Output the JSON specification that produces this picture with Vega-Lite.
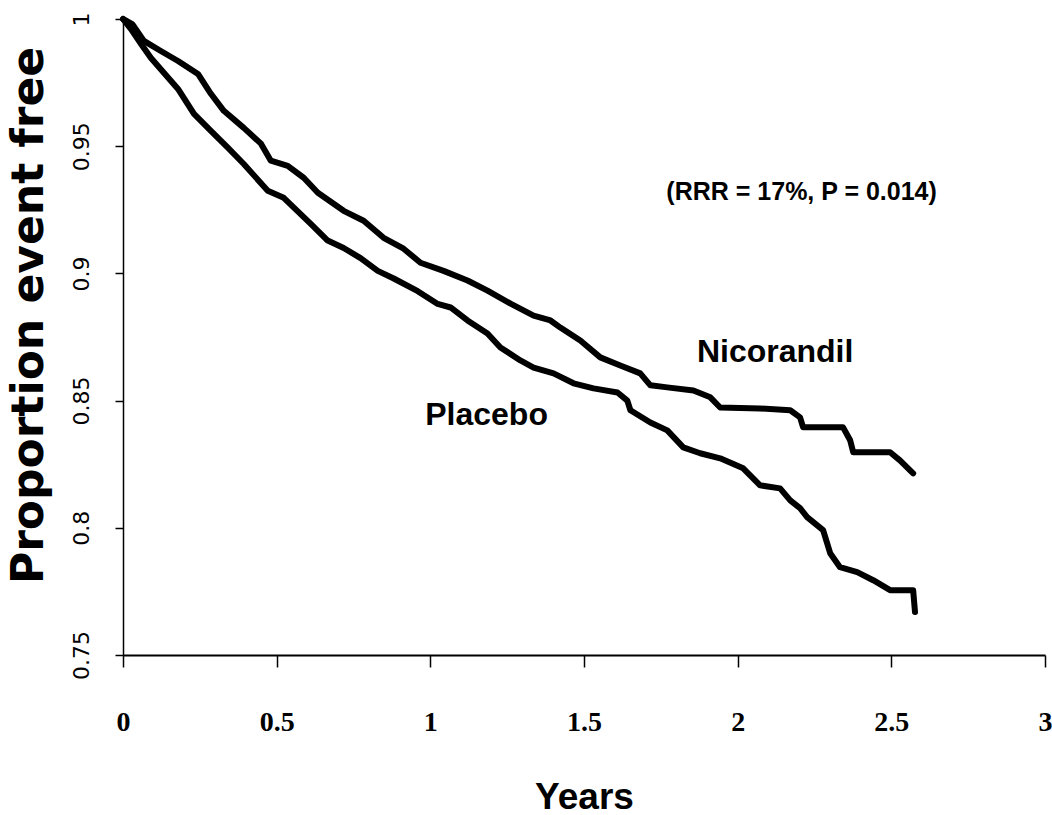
{
  "$schema": "https://vega.github.io/schema/vega-lite/v6.json",
  "width": 922,
  "height": 636,
  "autosize": "none",
  "padding": {"left": 123, "top": 19, "right": 7, "bottom": 160},
  "background": "white",
  "config": {"view": {"stroke": null}},
  "datasets": {
    "curves": [
      {"group": "Nicorandil", "t": 0, "s": 1},
      {"group": "Nicorandil", "t": 0.03, "s": 0.998},
      {"group": "Nicorandil", "t": 0.068, "s": 0.9914},
      {"group": "Nicorandil", "t": 0.123, "s": 0.9874},
      {"group": "Nicorandil", "t": 0.179, "s": 0.9835},
      {"group": "Nicorandil", "t": 0.244, "s": 0.9784},
      {"group": "Nicorandil", "t": 0.286, "s": 0.9706},
      {"group": "Nicorandil", "t": 0.328, "s": 0.9639},
      {"group": "Nicorandil", "t": 0.393, "s": 0.9572},
      {"group": "Nicorandil", "t": 0.449, "s": 0.951},
      {"group": "Nicorandil", "t": 0.481, "s": 0.9443},
      {"group": "Nicorandil", "t": 0.536, "s": 0.9423},
      {"group": "Nicorandil", "t": 0.588, "s": 0.9376},
      {"group": "Nicorandil", "t": 0.634, "s": 0.9317},
      {"group": "Nicorandil", "t": 0.718, "s": 0.9246},
      {"group": "Nicorandil", "t": 0.783, "s": 0.9207},
      {"group": "Nicorandil", "t": 0.848, "s": 0.914},
      {"group": "Nicorandil", "t": 0.913, "s": 0.9097},
      {"group": "Nicorandil", "t": 0.968, "s": 0.9042},
      {"group": "Nicorandil", "t": 1.043, "s": 0.901},
      {"group": "Nicorandil", "t": 1.121, "s": 0.8972},
      {"group": "Nicorandil", "t": 1.186, "s": 0.8932},
      {"group": "Nicorandil", "t": 1.261, "s": 0.8881},
      {"group": "Nicorandil", "t": 1.336, "s": 0.8834},
      {"group": "Nicorandil", "t": 1.391, "s": 0.8815},
      {"group": "Nicorandil", "t": 1.423, "s": 0.8787},
      {"group": "Nicorandil", "t": 1.488, "s": 0.8736},
      {"group": "Nicorandil", "t": 1.553, "s": 0.867},
      {"group": "Nicorandil", "t": 1.618, "s": 0.8638},
      {"group": "Nicorandil", "t": 1.683, "s": 0.8607},
      {"group": "Nicorandil", "t": 1.716, "s": 0.856},
      {"group": "Nicorandil", "t": 1.771, "s": 0.8552},
      {"group": "Nicorandil", "t": 1.856, "s": 0.854},
      {"group": "Nicorandil", "t": 1.911, "s": 0.8513},
      {"group": "Nicorandil", "t": 1.943, "s": 0.8473},
      {"group": "Nicorandil", "t": 2.073, "s": 0.8469},
      {"group": "Nicorandil", "t": 2.171, "s": 0.8462},
      {"group": "Nicorandil", "t": 2.203, "s": 0.8434},
      {"group": "Nicorandil", "t": 2.213, "s": 0.8395},
      {"group": "Nicorandil", "t": 2.343, "s": 0.8395},
      {"group": "Nicorandil", "t": 2.366, "s": 0.8344},
      {"group": "Nicorandil", "t": 2.376, "s": 0.8297},
      {"group": "Nicorandil", "t": 2.496, "s": 0.8297},
      {"group": "Nicorandil", "t": 2.528, "s": 0.8265},
      {"group": "Nicorandil", "t": 2.571, "s": 0.8214},
      {"group": "Placebo", "t": 0, "s": 1},
      {"group": "Placebo", "t": 0.026, "s": 0.996},
      {"group": "Placebo", "t": 0.06, "s": 0.99},
      {"group": "Placebo", "t": 0.091, "s": 0.9847},
      {"group": "Placebo", "t": 0.179, "s": 0.9725},
      {"group": "Placebo", "t": 0.231, "s": 0.9627},
      {"group": "Placebo", "t": 0.286, "s": 0.956},
      {"group": "Placebo", "t": 0.341, "s": 0.9494},
      {"group": "Placebo", "t": 0.393, "s": 0.943},
      {"group": "Placebo", "t": 0.471, "s": 0.9325},
      {"group": "Placebo", "t": 0.523, "s": 0.9297},
      {"group": "Placebo", "t": 0.611, "s": 0.9195},
      {"group": "Placebo", "t": 0.666, "s": 0.9129},
      {"group": "Placebo", "t": 0.718, "s": 0.91},
      {"group": "Placebo", "t": 0.773, "s": 0.906},
      {"group": "Placebo", "t": 0.829, "s": 0.901},
      {"group": "Placebo", "t": 0.881, "s": 0.898},
      {"group": "Placebo", "t": 0.959, "s": 0.893},
      {"group": "Placebo", "t": 1.024, "s": 0.888},
      {"group": "Placebo", "t": 1.066, "s": 0.8866},
      {"group": "Placebo", "t": 1.121, "s": 0.8815},
      {"group": "Placebo", "t": 1.186, "s": 0.8764},
      {"group": "Placebo", "t": 1.228, "s": 0.8709},
      {"group": "Placebo", "t": 1.293, "s": 0.8658},
      {"group": "Placebo", "t": 1.336, "s": 0.863},
      {"group": "Placebo", "t": 1.401, "s": 0.8607},
      {"group": "Placebo", "t": 1.466, "s": 0.8568},
      {"group": "Placebo", "t": 1.531, "s": 0.8548},
      {"group": "Placebo", "t": 1.609, "s": 0.8532},
      {"group": "Placebo", "t": 1.641, "s": 0.85},
      {"group": "Placebo", "t": 1.651, "s": 0.8462},
      {"group": "Placebo", "t": 1.716, "s": 0.8414},
      {"group": "Placebo", "t": 1.771, "s": 0.8383},
      {"group": "Placebo", "t": 1.823, "s": 0.8316},
      {"group": "Placebo", "t": 1.878, "s": 0.8293},
      {"group": "Placebo", "t": 1.943, "s": 0.8273},
      {"group": "Placebo", "t": 2.018, "s": 0.8234},
      {"group": "Placebo", "t": 2.073, "s": 0.8167},
      {"group": "Placebo", "t": 2.138, "s": 0.8155},
      {"group": "Placebo", "t": 2.171, "s": 0.8108},
      {"group": "Placebo", "t": 2.203, "s": 0.8077},
      {"group": "Placebo", "t": 2.226, "s": 0.8042},
      {"group": "Placebo", "t": 2.278, "s": 0.7991},
      {"group": "Placebo", "t": 2.301, "s": 0.79},
      {"group": "Placebo", "t": 2.333, "s": 0.7845},
      {"group": "Placebo", "t": 2.389, "s": 0.7826},
      {"group": "Placebo", "t": 2.441, "s": 0.7794},
      {"group": "Placebo", "t": 2.496, "s": 0.7755},
      {"group": "Placebo", "t": 2.571, "s": 0.7755},
      {"group": "Placebo", "t": 2.577, "s": 0.7669}
    ],
    "labels": [
      {"label": "Nicorandil", "t": 2.122, "s": 0.8652, "size": 32},
      {"label": "Placebo", "t": 1.183, "s": 0.8404, "size": 32},
      {"label": "(RRR = 17%, P = 0.014)", "t": 2.208, "s": 0.9289, "size": 25}
    ]
  },
  "layer": [
    {
      "data": {"name": "curves"},
      "mark": {"type": "line", "color": "black", "strokeWidth": 6, "strokeJoin": "round", "strokeCap": "round", "interpolate": "linear"},
      "encoding": {
        "x": {
          "field": "t", "type": "quantitative",
          "scale": {"domain": [0, 3], "nice": false, "zero": false},
          "axis": {
            "values": [0, 0.5, 1, 1.5, 2, 2.5, 3],
            "format": "~g",
            "grid": false,
            "title": "Years",
            "domainColor": "black", "domainWidth": 2,
            "tickColor": "black", "tickWidth": 1.5, "tickSize": 12,
            "labelFont": "Liberation Serif", "labelFontSize": 28, "labelFontWeight": "bold", "labelColor": "black",
            "labelBaseline": "alphabetic", "labelPadding": 63, "labelFlush": false, "labelOverlap": false,
            "titleFont": "Liberation Sans", "titleFontSize": 37, "titleFontWeight": "bold", "titleColor": "black",
            "titleBaseline": "alphabetic", "titleY": 153
          }
        },
        "y": {
          "field": "s", "type": "quantitative",
          "scale": {"domain": [0.75, 1], "nice": false, "zero": false},
          "axis": {
            "values": [0.75, 0.8, 0.85, 0.9, 0.95, 1],
            "format": "~g",
            "grid": false,
            "title": "Proportion event free",
            "domainColor": "black", "domainWidth": 1.5,
            "tickColor": "black", "tickWidth": 1.5, "tickSize": 8,
            "labelFont": "DejaVu Sans", "labelFontSize": 22, "labelColor": "black",
            "labelAngle": -90, "labelAlign": "center", "labelBaseline": "alphabetic", "labelPadding": 27,
            "labelFlush": false, "labelOverlap": false,
            "titleFont": "DejaVu Sans", "titleFontSize": 44, "titleFontWeight": "bold", "titleColor": "black",
            "titleAngle": -90, "titleAlign": "center", "titleBaseline": "alphabetic",
            "titleX": -81, "titleY": 296
          }
        },
        "detail": {"field": "group"}
      }
    },
    {
      "data": {"name": "labels"},
      "mark": {"type": "text", "font": "Liberation Sans", "fontWeight": "bold", "color": "black", "align": "center", "baseline": "alphabetic"},
      "encoding": {
        "x": {"field": "t", "type": "quantitative"},
        "y": {"field": "s", "type": "quantitative"},
        "text": {"field": "label"},
        "size": {"field": "size", "type": "quantitative", "scale": null}
      }
    }
  ]
}
